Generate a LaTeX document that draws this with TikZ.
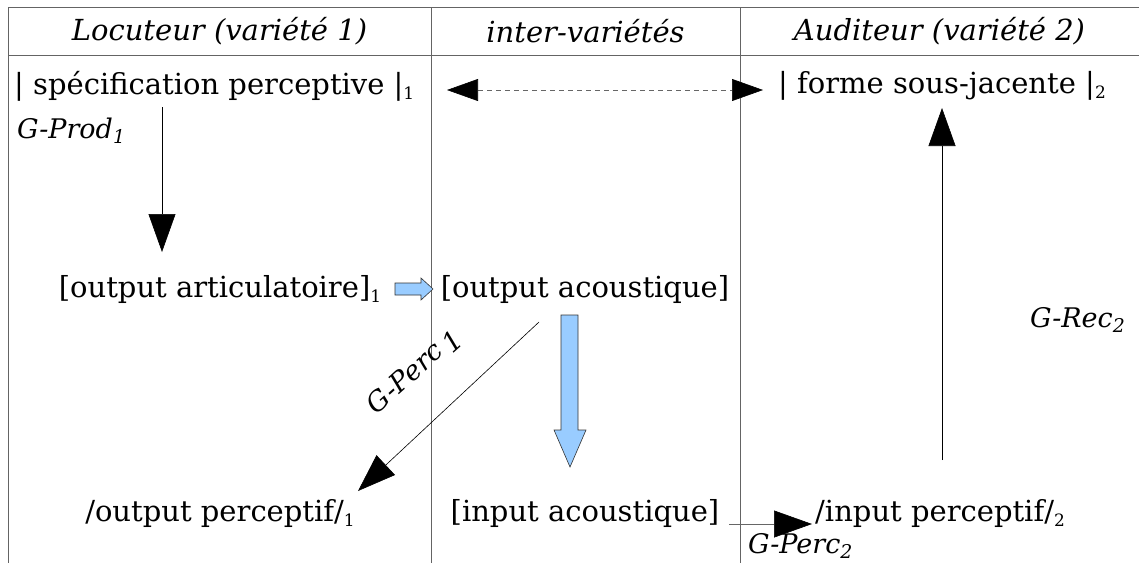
\documentclass[tikz,border=0pt]{standalone}
\usepackage{fontspec}
\setmainfont{DejaVu Serif}
\usetikzlibrary{arrows.meta}
\definecolor{gridc}{RGB}{100,100,100}
\definecolor{bluefill}{RGB}{153,204,255}
\newcommand{\lowidx}[1]{\raisebox{-0.18em}{\fontsize{17}{17}\selectfont #1}}
\tikzset{
  gridline/.style={draw=gridc, line width=1pt},
  headtxt/.style={font=\itshape\fontsize{29}{34}\selectfont, inner sep=0pt},
  txt/.style={font=\fontsize{29}{34}\selectfont, inner sep=0pt},
  lab/.style={font=\itshape\fontsize{27}{32}\selectfont, inner sep=0pt},
  bigarrow/.style={-{Triangle[length=38pt,width=27pt,color=black]}, line width=0.6pt},
  dasharrow/.style={{Triangle[length=31pt,width=22pt,color=black]}-{Triangle[length=31pt,width=22pt,color=black]}, dash pattern=on 5pt off 4pt, line width=0.6pt, draw=black!60},
  blockarrow/.style={draw=black!80, fill=bluefill, line width=0.6pt},
}
\begin{document}
\begin{tikzpicture}[x=1pt,y=-1pt]
\useasboundingbox (0,0) rectangle (1139,563);
% table
\draw[gridline] (8,7) -- (1139,7);
\draw[gridline] (8,55) -- (1139,55);
\draw[gridline] (8,7) -- (8,563);
\draw[gridline] (431,7) -- (431,563);
\draw[gridline] (740,7) -- (740,563);
% headers
\node[headtxt] (h1) at (219.5,31) {Locuteur (variété 1)};
\node[headtxt] (h2) at (585.5,31) {inter-variétés};
\node[headtxt] (h3) at (939.5,31) {Auditeur (variété 2)};
% texts
\node[txt, anchor=west] (spec) at (14,86) {| spécification perceptive |\lowidx{1}};
\node[txt, anchor=west] (forme) at (778,86) {| forme sous-jacente |\lowidx{2}};
\node[txt] (oart) at (220,289) {[output articulatoire]\lowidx{1}};
\node[txt] (oac) at (585,289) {[output acoustique]};
\node[txt] (opf) at (220,513) {/output perceptif/\lowidx{1}};
\node[txt] (iac) at (585,513) {[input acoustique]};
\node[txt, anchor=west] (ipf) at (815,513) {/input perceptif/\lowidx{2}};
% labels
\node[lab, anchor=west] (gprod) at (17,131) {G-Prod\textsubscript{1}};
\node[lab, anchor=west] (grec) at (1030,320) {G-Rec\textsubscript{2}};
\node[lab, anchor=west] (gperc2) at (748,546) {G-Perc\textsubscript{2}};
\node[lab, rotate=42] (gperc1) at (414,372) {G-Perc\,\raisebox{-0.2em}{1}};
% connector coordinates
\coordinate (dL) at (447,90);
\coordinate (dR) at (763,90);
\coordinate (pS) at (162,107);
\coordinate (pE) at (162,252);
\coordinate (rS) at (942,460);
\coordinate (rE) at (942,108);
\coordinate (cS) at (539,322);
\coordinate (cE) at (358,491);
\coordinate (qS) at (729,524);
\coordinate (qE) at (812,524);
% connectors
\draw[dasharrow] (dL) -- (dR);
\draw[bigarrow] (pS) -- (pE);
\draw[bigarrow] (rS) -- (rE);
\draw[bigarrow] (cS) -- (cE);
\draw[bigarrow, draw=black!60] (qS) -- (qE);
% block arrows
\draw[blockarrow] (395,283) -- (421,283) -- (421,278) -- (433,289) -- (421,300) -- (421,295) -- (395,295) -- cycle;
\draw[blockarrow] (561,315) -- (578,315) -- (578,430) -- (586,430) -- (570,467) -- (554,430) -- (561,430) -- cycle;
\end{tikzpicture}
\end{document}
